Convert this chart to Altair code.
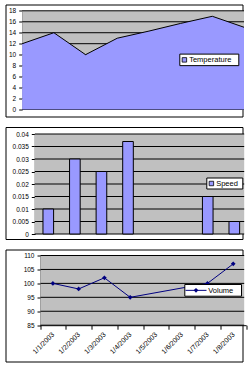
import altair as alt
import pandas as pd

# ---------------- data ----------------
dates = ["1/1/2003", "1/2/2003", "1/3/2003", "1/4/2003",
         "1/5/2003", "1/6/2003", "1/7/2003", "1/8/2003"]
temperature = [12, 14, 10, 13, 14.3, 15.7, 17, 15]
speed = [0.01, 0.03, 0.025, 0.037, None, None, 0.015, 0.005]
volume = [100, 98, 102, 95, None, None, 100, 107]

temp_ticks = [0, 2, 4, 6, 8, 10, 12, 14, 16, 18]
speed_ticks = [0, 0.005, 0.01, 0.015, 0.02, 0.025, 0.03, 0.035, 0.04]
volume_ticks = [85, 90, 95, 100, 105, 110]

# ---------------- styling ----------------
FONT = "Liberation Sans"
BLUE = "#9999FF"
GREY = "#C0C0C0"
NAVY = "#000080"
W, H = 237, 112          # each framed panel

one = pd.DataFrame({"k": [0]})


def frame_bg(x0, x1, y0, y1):
    return alt.Chart(one).mark_rect(fill=GREY).encode(
        x=alt.value(x0), x2=alt.value(x1), y=alt.value(y0), y2=alt.value(y1))


def yaxis(values, offset, fmt=None):
    kw = dict(values=values, offset=offset, title=None, grid=False,
              labelFont=FONT, labelFontSize=6.5, labelColor="black",
              tickColor="black", tickSize=3.5, domainColor="black",
              labelPadding=3, labelFlush=False, labelOverlap=False)
    if fmt:
        kw["format"] = fmt
    return alt.Axis(**kw)


def square_legend(scale, axis, x0, x1, top, bot, label):
    """Legend box placed on the panel's own vertical scale."""
    mid = (top + bot) / 2
    box = alt.Chart(one).mark_rect(fill="white", stroke="black", strokeWidth=1).encode(
        x=alt.value(x0), x2=alt.value(x1),
        y=alt.Y(datum=top, scale=scale, axis=axis), y2=alt.Y2(datum=bot))
    sym = alt.Chart(one).mark_square(fill=BLUE, stroke="black", strokeWidth=0.8,
                                     size=20, opacity=1).encode(
        x=alt.value(x0 + 4.6), y=alt.Y(datum=mid, scale=scale, axis=axis))
    txt = alt.Chart(one).mark_text(align="left", baseline="middle", font=FONT, fontSize=7.5,
                                   color="black", dy=0.5).encode(
        x=alt.value(x0 + 9.4), y=alt.Y(datum=mid, scale=scale, axis=axis), text=alt.value(label))
    return [box, sym, txt]


# ---------------- panel 1 : Temperature (area) ----------------
p1 = dict(x0=16.7, x1=238.5, y0=6.3, y1=105)
temp_df = pd.DataFrame({"Date": dates, "Temperature": temperature})
ys1 = alt.Scale(domain=[0, 18], range=[p1["y1"], p1["y0"]], nice=False, zero=False)
xs1 = alt.Scale(type="point", domain=dates, range=[p1["x0"], p1["x1"]], padding=0)
ax1 = yaxis(temp_ticks, -p1["x0"])

grid1 = alt.Chart(pd.DataFrame({"v": temp_ticks})).mark_rule(color="black", strokeWidth=1).encode(
    y=alt.Y("v:Q", scale=ys1, axis=ax1), x=alt.value(p1["x0"]), x2=alt.value(p1["x1"]))
area1 = alt.Chart(temp_df).mark_area(color=BLUE, opacity=1).encode(
    x=alt.X("Date:O", scale=xs1, axis=None),
    y=alt.Y("Temperature:Q", scale=ys1, axis=ax1))
line1 = alt.Chart(temp_df).mark_line(color="black", strokeWidth=1).encode(
    x=alt.X("Date:O", scale=xs1, axis=None),
    y=alt.Y("Temperature:Q", scale=ys1, axis=ax1))
panel1 = alt.layer(
    frame_bg(p1["x0"], p1["x1"], p1["y0"], p1["y1"]), grid1, area1, line1,
    *square_legend(ys1, ax1, 174.3, 233.3, 10.1, 8.0, "Temperature"),
).properties(width=W, height=H)

# ---------------- panel 2 : Speed (bars) ----------------
p2 = dict(x0=29.3, x1=238.7, y0=7, y1=107)
speed_df = pd.DataFrame({"Date": dates, "Speed": speed}).dropna()
ys2 = alt.Scale(domain=[0, 0.04], range=[p2["y1"], p2["y0"]], nice=False, zero=False)
xs2 = alt.Scale(type="band", domain=dates, range=[29.5, 242.1], paddingInner=0.6, paddingOuter=0.3)
ax2 = yaxis(speed_ticks, -p2["x0"], ".3~f")

grid2 = alt.Chart(pd.DataFrame({"v": speed_ticks})).mark_rule(color="black", strokeWidth=1).encode(
    y=alt.Y("v:Q", scale=ys2, axis=ax2), x=alt.value(p2["x0"]), x2=alt.value(p2["x1"]))
bars2 = alt.Chart(speed_df).mark_bar(color=BLUE, stroke="black", strokeWidth=1, opacity=1).encode(
    x=alt.X("Date:O", scale=xs2, axis=None),
    y=alt.Y("Speed:Q", scale=ys2, axis=ax2))
panel2 = alt.layer(
    frame_bg(p2["x0"], p2["x1"], p2["y0"], p2["y1"]), grid2, bars2,
    *square_legend(ys2, ax2, 201.3, 237.3, 0.0224, 0.0180, "Speed"),
).properties(width=W, height=H)

# ---------------- panel 3 : Volume (line) ----------------
p3 = dict(x0=35, x1=238.7, y0=6, y1=75.7)
vol_df = pd.DataFrame({"Date": dates, "Volume": volume}).dropna()
ys3 = alt.Scale(domain=[85, 110], range=[p3["y1"], p3["y0"]], nice=False, zero=False)
xs3 = alt.Scale(type="band", domain=dates, range=[34.5, 240.6], paddingInner=0, paddingOuter=0)
ax3 = yaxis(volume_ticks, -p3["x0"])

xaxis3 = alt.Axis(title=None, offset=-(H - p3["y1"]), labelAngle=-45, labelAlign="right",
                  labelBaseline="middle", labelFont=FONT, labelFontSize=7,
                  labelColor="black", tickColor="black", tickSize=4, tickBand="extent",
                  domainColor="black", labelPadding=4, labelOverlap=False, grid=False)

grid3 = alt.Chart(pd.DataFrame({"v": volume_ticks})).mark_rule(color="black", strokeWidth=1).encode(
    y=alt.Y("v:Q", scale=ys3, axis=ax3), x=alt.value(p3["x0"]), x2=alt.value(p3["x1"]))
line3 = alt.Chart(vol_df).mark_line(color=NAVY, strokeWidth=1).encode(
    x=alt.X("Date:O", scale=xs3, axis=xaxis3, bandPosition=0.5),
    y=alt.Y("Volume:Q", scale=ys3, axis=ax3))
pts3 = alt.Chart(vol_df).mark_point(shape="diamond", filled=True, color=NAVY, size=22, opacity=1).encode(
    x=alt.X("Date:O", scale=xs3, axis=xaxis3, bandPosition=0.5),
    y=alt.Y("Volume:Q", scale=ys3, axis=ax3))

LEG3_TOP, LEG3_BOT, LEG3_MID = 99.6, 95.4, 97.5
leg3_box = alt.Chart(one).mark_rect(fill="white", stroke="black", strokeWidth=1).encode(
    x=alt.value(179.3), x2=alt.value(236),
    y=alt.Y(datum=LEG3_TOP, scale=ys3, axis=ax3), y2=alt.Y2(datum=LEG3_BOT))
leg3_line = alt.Chart(one).mark_rule(color=NAVY, strokeWidth=1).encode(
    x=alt.value(180), x2=alt.value(201), y=alt.Y(datum=LEG3_MID, scale=ys3, axis=ax3))
leg3_pt = alt.Chart(one).mark_point(shape="diamond", filled=True, color=NAVY, size=22, opacity=1).encode(
    x=alt.value(190.5), y=alt.Y(datum=LEG3_MID, scale=ys3, axis=ax3))
leg3_txt = alt.Chart(one).mark_text(align="left", baseline="middle", font=FONT, fontSize=7.5,
                                    color="black", dy=0.5).encode(
    x=alt.value(202.7), y=alt.Y(datum=LEG3_MID, scale=ys3, axis=ax3), text=alt.value("Volume"))

panel3 = alt.layer(
    frame_bg(p3["x0"], p3["x1"], p3["y0"], p3["y1"]), grid3, line3, pts3,
    leg3_box, leg3_line, leg3_pt, leg3_txt,
).properties(width=W, height=H)

chart = alt.vconcat(panel1, panel2, panel3, spacing=8.5).properties(
    padding={"left": 1.5, "top": 3.5, "right": 0, "bottom": 0},
    background="white",
).configure_view(stroke="black", strokeWidth=1, fill="white")

chart.save("out.html", embed_options={"renderer": "svg", "actions": False})
